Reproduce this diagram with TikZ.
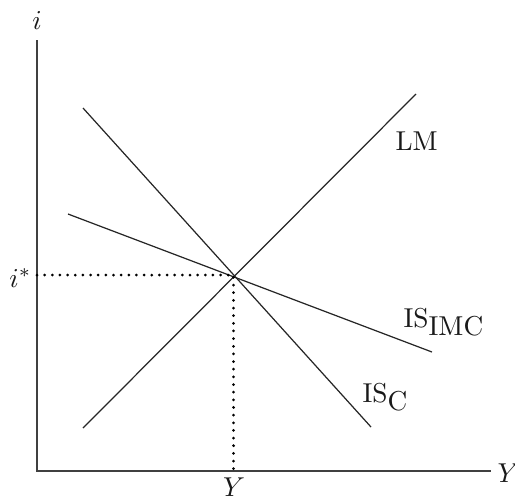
\documentclass[tikz,border=0pt]{standalone}
\begin{document}
\begin{tikzpicture}[x=0.366pt,y=-0.366pt,
  axis/.style={draw=black!75,line width=0.5pt},
  curve/.style={draw=black!85,line width=0.45pt},
  guide/.style={line width=1.1pt,dash pattern=on 0pt off 2.8pt,line cap=round},
  lbl/.style={inner sep=0pt,text=black!90}]
\useasboundingbox (0,0) rectangle (515,498);
\coordinate (O) at (37,471);
\coordinate (Ytop) at (37,40);
\coordinate (Xend) at (491,471);
\coordinate (E) at (233.5,275);
\coordinate (Ei) at (37,275);
\coordinate (EY) at (233.5,471);
\coordinate (LMa) at (83,428);
\coordinate (LMb) at (416,94);
\coordinate (ICa) at (83,108);
\coordinate (ICb) at (371,427);
\coordinate (IIa) at (68,214);
\coordinate (IIb) at (432,352);
\draw[axis] (Ytop) -- (O) -- (Xend);
\draw[curve] (LMa) -- (LMb);
\draw[curve] (ICa) -- (ICb);
\draw[curve] (IIa) -- (IIb);
\draw[guide] (Ei) -- (E) -- (EY);
\node[lbl,anchor=base] (li) at (37,29) {$i$};
\node[lbl,anchor=base east] (lis) at (32,287) {$i^*$};
\node[lbl,anchor=base west] (lY) at (497,482) {$Y$};
\node[lbl,anchor=base] (lYb) at (234,496) {$Y$};
\node[lbl,anchor=base west] (lLM) at (395,150) {LM};
\node[lbl,anchor=base west] (lII) at (403,327) {IS\raisebox{-3pt}{IMC}};
\node[lbl,anchor=base west] (lIC) at (362,402) {IS\raisebox{-3pt}{C}};
\end{tikzpicture}
\end{document}
